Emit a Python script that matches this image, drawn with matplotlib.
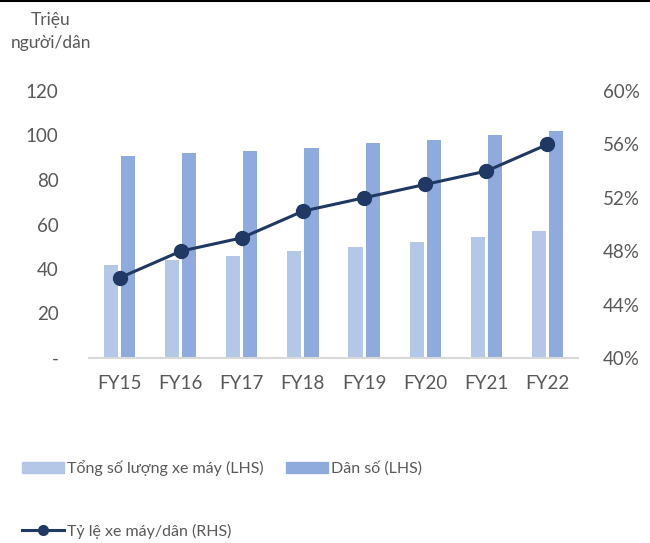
import matplotlib.pyplot as plt
from matplotlib.lines import Line2D
import numpy as np

plt.rcParams['font.family'] = ['Lato', 'DejaVu Sans']

# Số liệu theo năm tài chính
years = ['FY15', 'FY16', 'FY17', 'FY18', 'FY19', 'FY20', 'FY21', 'FY22']
xe_may = [42, 44, 46, 48, 50, 52, 54.5, 57]          # triệu xe
dan_so = [91, 92, 93, 94.5, 96.5, 98, 100, 102]      # triệu người
ty_le = [46, 48, 49, 51, 52, 53, 54, 56]             # % xe máy / dân

c_light = '#B4C7E7'
c_dark = '#8FAADC'
c_line = '#1F3864'
c_text = '#595959'

W, H = 650, 543
fig = plt.figure(figsize=(W / 100, H / 100), dpi=100)
ax = fig.add_axes([89 / W, 1 - 358 / H, (578 - 89) / W, (358 - 91) / H])
ax2 = ax.twinx()

x = np.arange(len(years))
bw = 0.23
ax.bar(x - 0.14, xe_may, width=bw, color=c_light, label='Tổng số lượng xe máy (LHS)')
ax.bar(x + 0.14, dan_so, width=bw, color=c_dark, label='Dân số (LHS)')
ax2.plot(x, ty_le, color=c_line, lw=2.2, marker='o', ms=10,
         label='Tỷ lệ xe máy/dân (RHS)')

ax.set_xlim(-0.5, len(years) - 0.5)
ax.set_ylim(0, 120)
ax2.set_ylim(40, 60)

ax.set_yticks(range(0, 121, 20))
ax.set_yticklabels(['-'] + [str(v) for v in range(20, 121, 20)])
ax2.set_yticks(range(40, 61, 4))
ax2.set_yticklabels([f'{v}%' for v in range(40, 61, 4)])
ax.set_xticks(x)
ax.set_xticklabels(years)

for a in (ax, ax2):
    for s in a.spines.values():
        s.set_visible(False)
    a.tick_params(length=0, labelsize=13.5, colors=c_text)
ax.spines['bottom'].set_visible(True)
ax.spines['bottom'].set_color('#D9D9D9')
ax.spines['bottom'].set_linewidth(1.5)
ax.tick_params(axis='y', pad=22)
ax.tick_params(axis='x', pad=12)
ax2.tick_params(axis='y', pad=18)

fig.text(51 / W, 1 - 20 / H, 'Triệu', ha='center', va='center', fontsize=12.5, color=c_text)
fig.text(51 / W, 1 - 43 / H, 'người/dân', ha='center', va='center', fontsize=12.5, color=c_text)

# Chú thích
h1 = plt.Rectangle((0, 0), 1, 1, color=c_light)
h2 = plt.Rectangle((0, 0), 1, 1, color=c_dark)
h3 = Line2D([], [], color=c_line, lw=2.2, marker='o', ms=7)
leg_kw = dict(frameon=False, fontsize=11.5, labelcolor=c_text, handlelength=2.6,
              handleheight=0.7, handletextpad=0.2, borderaxespad=0)
fig.legend([h1, h2], ['Tổng số lượng xe máy (LHS)', 'Dân số (LHS)'],
           loc='center left', bbox_to_anchor=(16 / W, 1 - 468 / H), ncol=2,
           columnspacing=1.4, **leg_kw)
fig.legend([h3], ['Tỷ lệ xe máy/dân (RHS)'],
           loc='center left', bbox_to_anchor=(16 / W, 1 - 531 / H), **leg_kw)

fig.add_artist(Line2D([0, 1], [1 - 1 / H, 1 - 1 / H], color='black', lw=1.5,
                      transform=fig.transFigure))

fig.savefig('out.png', dpi=100)
